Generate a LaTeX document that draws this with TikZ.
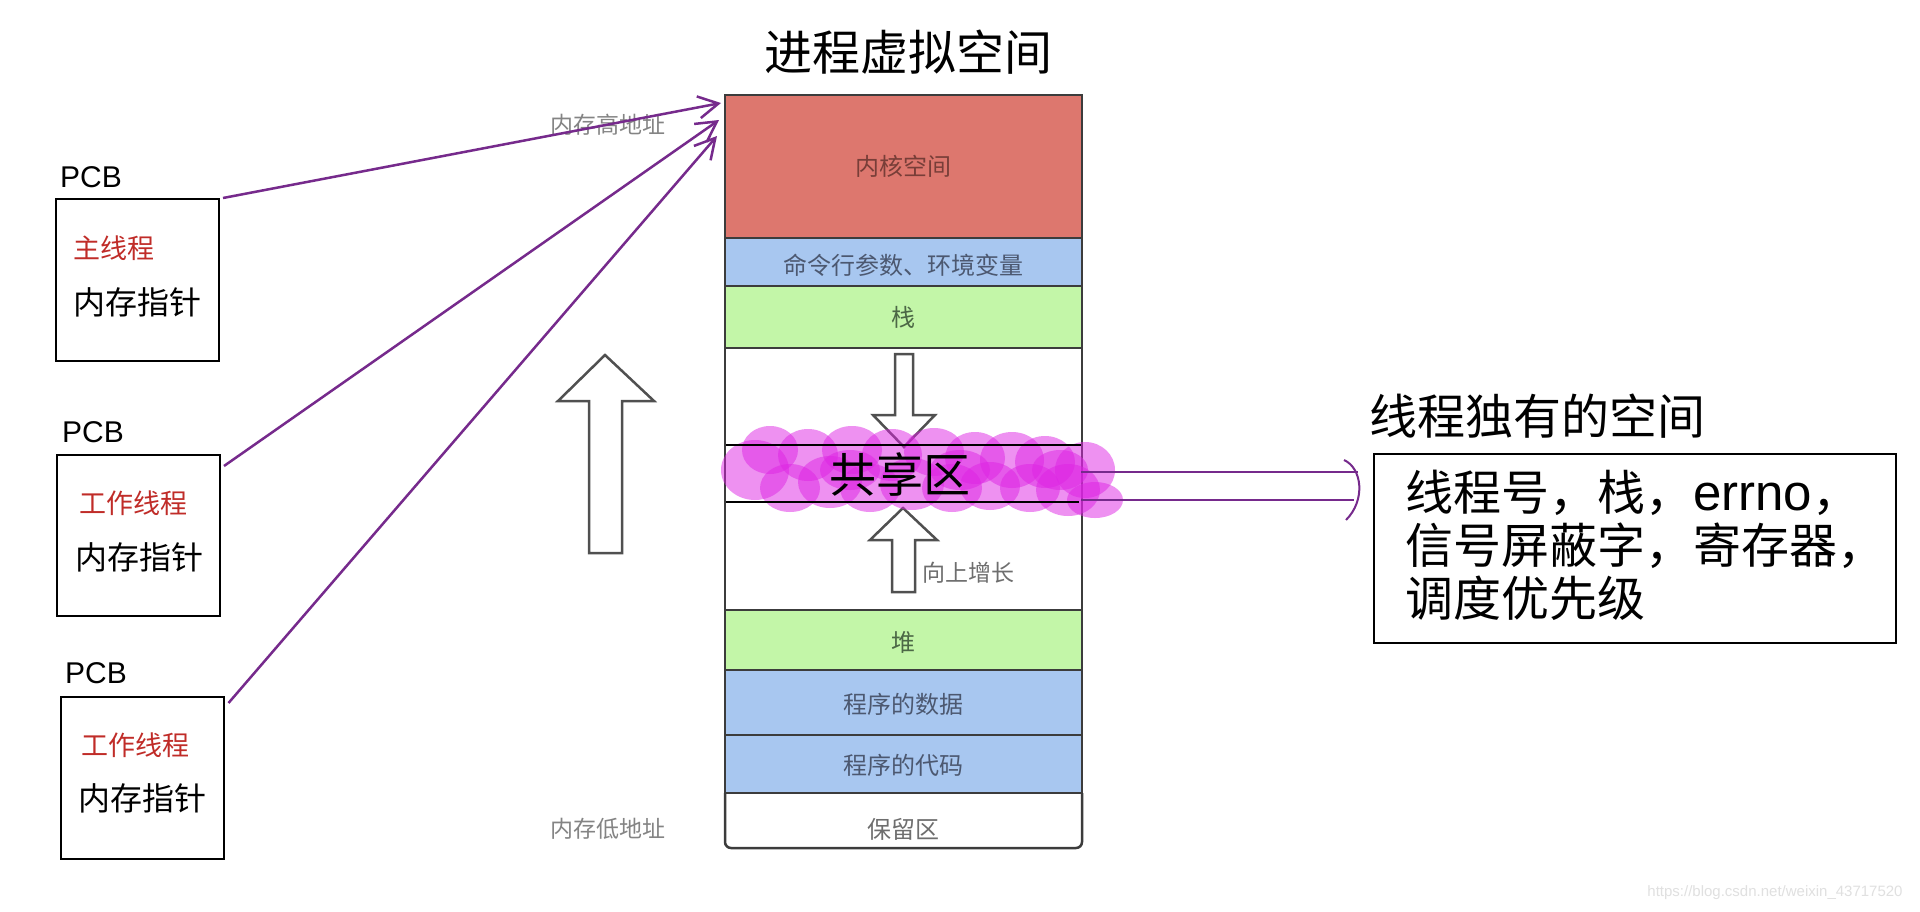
\documentclass[tikz,border=0pt]{standalone}
\usepackage{fontspec}
\setmainfont{Noto Sans CJK SC}
\newfontfamily\latin{Liberation Sans}
\usetikzlibrary{arrows.meta}
\definecolor{kred}{RGB}{221,119,110}
\definecolor{kblue}{RGB}{168,199,240}
\definecolor{kgreen}{RGB}{195,246,168}
\definecolor{pur}{RGB}{118,42,140}
\definecolor{blob}{RGB}{222,36,228}
\definecolor{bord}{RGB}{60,60,60}
\definecolor{redtxt}{RGB}{192,44,40}
\definecolor{ktxt}{RGB}{120,62,56}
\definecolor{btxt}{RGB}{76,88,112}
\definecolor{gtxt}{RGB}{76,104,70}
\definecolor{graytxt}{RGB}{110,110,110}
\begin{document}
\begin{tikzpicture}[x=1pt,y=-1pt,
  seg/.style={draw=bord, line width=2.5pt, inner sep=0pt, outer sep=0pt, minimum width=357pt, anchor=north west},
  segtext/.style={font=\fontsize{24}{28}\selectfont},
  pcbbox/.style={draw=black, line width=2pt, inner sep=0pt, minimum width=163pt, minimum height=162pt},
  pcblabel/.style={font=\latin\fontsize{30}{34}\selectfont, anchor=west, inner sep=0pt},
  thr/.style={text=redtxt, font=\fontsize{27}{30}\selectfont, inner sep=0pt},
  ptr/.style={font=\fontsize{32}{36}\selectfont, inner sep=0pt},
  parrow/.style={draw=pur, line width=2.5pt, -{Straight Barb[length=20pt,width=22pt,line width=2.5pt]}},
  hollow/.style={draw=bord!90, line width=2.5pt, fill=white, line join=miter},
  blobs/.style={fill=blob, fill opacity=0.5, draw=none},
  big/.style={font=\fontsize{48}{56}\selectfont, inner sep=0pt},
  addr/.style={font=\fontsize{23}{26}\selectfont, text=graytxt!85, inner sep=0pt}
]
\useasboundingbox[fill=white] (0,0) rectangle (1920,911);

% title
\node[big] (title) at (908,52) {进程虚拟空间};

% column blocks
\node[seg, fill=kred, minimum height=143pt] (kernel) at (725,95) {};
\node[segtext, text=ktxt] at (kernel.center) {内核空间};
\node[seg, fill=kblue, minimum height=48pt] (cmd) at (725,238) {};
\node[segtext, text=btxt] at ([yshift=-3pt]cmd.center) {命令行参数、环境变量};
\node[seg, fill=kgreen, minimum height=62pt] (stack) at (725,286) {};
\node[segtext, text=gtxt] at (stack.center) {栈};
\draw[draw=bord, line width=2.5pt] (stack.south west) -- (725,610);
\draw[draw=bord, line width=2.5pt] (stack.south east) -- (1082,610);
\node[seg, fill=kgreen, minimum height=60pt] (heap) at (725,610) {};
\node[segtext, text=gtxt] at ([yshift=-2pt]heap.center) {堆};
\node[seg, fill=kblue, minimum height=65pt] (data) at (725,670) {};
\node[segtext, text=btxt] at ([yshift=-2pt]data.center) {程序的数据};
\node[seg, fill=kblue, minimum height=58pt] (code) at (725,735) {};
\node[segtext, text=btxt] at ([yshift=-1pt]code.center) {程序的代码};
\node[inner sep=0pt, outer sep=0pt, minimum width=357pt, minimum height=55pt, anchor=north west] (reserved) at (725,793) {};
\draw[draw=bord, line width=2.5pt, rounded corners=6pt] (reserved.north west) -- (reserved.south west) -- (reserved.south east) -- (reserved.north east);
\node[segtext, text=graytxt] at ([yshift=-9pt]reserved.center) {保留区};

% growth arrows
\draw[hollow] (895,354) -- (913,354) -- (913,415) -- (935,415) -- (904,447) -- (873,415) -- (895,415) -- cycle;
\draw[hollow] (903,508) -- (937,540) -- (915,540) -- (915,592) -- (892,592) -- (892,540) -- (870,540) -- cycle;
\draw[hollow] (605,355) -- (654,401) -- (622,401) -- (622,553) -- (589,553) -- (589,401) -- (558,401) -- cycle;

% shared region highlight
\foreach \cx/\cy/\rx/\ry in {
  755/470/34/30, 770/450/28/24, 790/488/30/24, 808/455/30/26, 830/482/32/26,
  852/450/30/24, 870/488/30/24, 892/455/30/26, 912/484/32/26, 934/452/30/24,
  952/488/30/24, 975/458/30/26, 990/486/30/24, 1012/460/32/28, 1030/488/30/24,
  1045/462/30/26, 1068/490/32/26, 1085/470/30/28, 1095/500/28/18, 850/470/30/20,
  960/470/30/20, 1060/470/28/20}
  \fill[blobs] (\cx,\cy) ellipse [x radius=\rx pt, y radius=\ry pt];

\node[inner sep=0pt, outer sep=0pt, minimum width=355pt, minimum height=57pt] (shared) at (903.5,473.5) {};
\draw[black, line width=2.5pt] (shared.north west) -- (shared.north east);
\draw[black, line width=2.5pt] (shared.south west) -- ([xshift=-2pt]shared.south east);
\node[font=\fontsize{47}{52}\selectfont, inner sep=0pt] at (900,475) {共享区};
\node[addr, anchor=west, text=graytxt] (grow) at (922,573) {向上增长};

\node[addr] (hi) at (608,125) {内存高地址};
\node[addr] (lo) at (608,829) {内存低地址};

% PCB boxes
\node[pcbbox] (b1) at (137.5,280) {};
\node[pcblabel] at (60,177) {PCB};
\node[thr] at (114,248) {主线程};
\node[ptr] at (137.5,302) {内存指针};

\node[pcbbox, minimum height=161pt] (b2) at (138.5,535.5) {};
\node[pcblabel] at (62,432) {PCB};
\node[thr] at (133,503) {工作线程};
\node[ptr] at (139.5,557) {内存指针};

\node[pcbbox] (b3) at (142,778) {};
\node[pcblabel] at (65,673) {PCB};
\node[thr] at (135.5,745) {工作线程};
\node[ptr] at (142.5,798) {内存指针};

% pointer arrows
\coordinate (t1) at (721,103);
\coordinate (t2) at (719,120);
\coordinate (t3) at (717,136);
\draw[parrow] ([xshift=3pt]b1.north east) -- (t1);
\draw[parrow] ([xshift=3pt,yshift=-12pt]b2.north east) -- (t2);
\draw[parrow] ([xshift=4pt,yshift=-7pt]b3.north east) -- (t3);

% thread-private space
\node[big, anchor=west] (ptitle) at (1369,416) {线程独有的空间};
\node[draw=black, line width=2pt, inner sep=0pt, minimum width=522pt, minimum height=189pt, anchor=north west] (info) at (1373,453) {};
\node[inner sep=0pt, anchor=west, align=left, font=\fontsize{48}{53}\selectfont] (infotext) at (1405,545) {线程号，栈，{\latin\fontsize{51}{53}\selectfont errno}，\\信号屏蔽字，寄存器，\\调度优先级};

\coordinate (bt) at (1344,460);
\coordinate (bb) at (1346,520);
\draw[draw=pur, line width=2pt] ([yshift=1.5pt]shared.east) -- (1358,472);
\draw[draw=pur, line width=2pt] ([yshift=-26.5pt]shared.east) -- (1354,500);
\draw[draw=pur, line width=2pt] (bt) .. controls (1362,468) and (1366,500) .. (bb);

% watermark
\node[font=\latin\fontsize{15}{18}\selectfont, text=black!12, inner sep=0pt] at (1775,893) {https://blog.csdn.net/weixin\_43717520};
\end{tikzpicture}
\end{document}
